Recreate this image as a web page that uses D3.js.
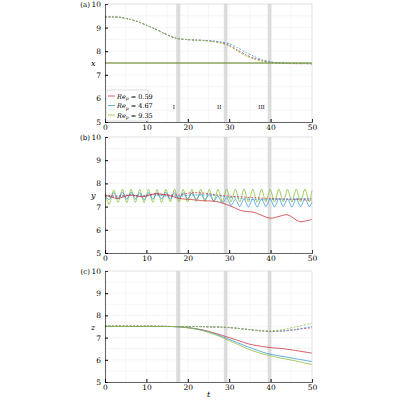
<!DOCTYPE html><html><head><meta charset="utf-8"><script src="https://cdn.jsdelivr.net/npm/d3@7"></script>
<style>body{margin:0;background:#fff}text{font-family:"DejaVu Serif","Liberation Serif",serif}</style></head><body><svg id="c" width="400" height="400"></svg><script>
const colors={red:"#c9343f",blue:"#3a9ad8",green:"#8fbe3a"};
const legendLabels=["0.59","4.67","9.35"];
const bands=[[17.2,18.2],[28.7,29.6],[39.3,40.2]];
const romans=[["I",16.6],["II",27.6],["III",37.8]];
const xTicks=[0,10,20,30,40,50], yTicks=[5,6,7,8,9,10];
// panel a
const tA=[0,2,4,6,8,10,12,14,16,17,18,20,22,24,26,28,30,32,34,36,38,40,42,44,46,48,50];
const aRed=[9.45,9.45,9.43,9.35,9.25,9.1,8.95,8.78,8.62,8.56,8.52,8.49,8.47,8.45,8.42,8.36,8.25,8.05,7.85,7.7,7.6,7.53,7.5,7.48,7.47,7.47,7.46];
const aBlue=[9.45,9.45,9.43,9.35,9.25,9.1,8.95,8.78,8.62,8.56,8.52,8.49,8.47,8.46,8.44,8.39,8.32,8.15,7.95,7.78,7.64,7.55,7.51,7.49,7.48,7.48,7.47];
const aGreen=[9.45,9.45,9.43,9.35,9.25,9.1,8.95,8.78,8.62,8.56,8.52,8.49,8.47,8.45,8.41,8.34,8.22,8.0,7.8,7.66,7.57,7.52,7.5,7.48,7.48,7.48,7.48];
const aFlat=[7.5,7.5];
// panel b oscillations, sampled at half periods
const tOsc=[0,1.05,2.1,3.15,4.2,5.25,6.3,7.35,8.4,9.45,10.5,11.55,12.6,13.65,14.7,15.75,16.8,17.85,18.9,19.95,21,22.05,23.1,24.15,25.2,26.25,27.3,28.35,29.4,30.45,31.5,32.55,33.6,34.65,35.7,36.75,37.8,38.85,39.9,40.95,42,43.05,44.1,45.15,46.2,47.25,48.3,49.35,50];
const bGreen=[7.5,7.1,7.72,7.18,7.75,7.17,7.75,7.18,7.74,7.17,7.75,7.18,7.74,7.18,7.74,7.2,7.75,7.2,7.74,7.2,7.74,7.22,7.75,7.22,7.74,7.2,7.75,7.2,7.76,7.2,7.75,7.2,7.76,7.2,7.75,7.18,7.76,7.2,7.75,7.2,7.76,7.2,7.75,7.2,7.76,7.2,7.76,7.2,7.7];
const bBlue=[7.45,7.3,7.6,7.32,7.62,7.32,7.62,7.33,7.6,7.3,7.6,7.32,7.6,7.33,7.62,7.32,7.6,7.33,7.6,7.34,7.58,7.32,7.56,7.3,7.52,7.25,7.45,7.15,7.38,7.05,7.32,7.0,7.34,6.98,7.35,6.98,7.34,7.0,7.33,6.98,7.35,7.0,7.34,6.98,7.35,7.0,7.34,7.0,7.2];
const tB=[0,3,6,9,12,15,18,21,24,27,30,33,36,40,44,47,50];
const bRed=[7.5,7.35,7.5,7.42,7.55,7.5,7.35,7.3,7.25,7.22,7.05,6.82,6.75,6.5,6.65,6.35,6.45];
const bRedD=[7.5,7.45,7.5,7.45,7.55,7.5,7.5,7.6,7.58,7.5,7.45,7.42,7.38,7.35,7.32,7.3,7.28];
const bBlueD=[7.45,7.4,7.5,7.45,7.5,7.45,7.45,7.5,7.5,7.48,7.4,7.35,7.3,7.3,7.32,7.35,7.35];
// panel c
const tC=[0,10,16,18,20,22,24,26,28,30,32,35,38,40,43,46,50];
const cRed=[7.5,7.5,7.5,7.48,7.45,7.4,7.33,7.23,7.12,7.0,6.88,6.7,6.6,6.55,6.5,6.42,6.3];
const cBlue=[7.5,7.5,7.5,7.48,7.45,7.39,7.31,7.2,7.07,6.92,6.77,6.55,6.35,6.25,6.15,6.05,5.92];
const cGreen=[7.5,7.5,7.5,7.48,7.44,7.38,7.29,7.17,7.03,6.86,6.7,6.45,6.27,6.18,6.06,5.95,5.78];
const cRedD=[7.52,7.52,7.5,7.5,7.5,7.5,7.49,7.48,7.47,7.45,7.42,7.35,7.3,7.28,7.3,7.36,7.45];
const cBlueD=[7.52,7.52,7.5,7.5,7.5,7.5,7.49,7.48,7.47,7.45,7.42,7.36,7.3,7.28,7.3,7.36,7.5];
const cGreenD=[7.52,7.52,7.5,7.5,7.5,7.5,7.49,7.48,7.47,7.45,7.42,7.36,7.31,7.3,7.36,7.48,7.65];

const svg=d3.select("#c");
const x=d3.scaleLinear().domain([0,50]).range([105,312]);
function panel(top,bot,lab,vlab,series){
  const y=d3.scaleLinear().domain([5,10]).range([bot,top]);
  const g=svg.append("g");
  for(let v=0;v<=50;v+=5)g.append("line").attr("x1",x(v)).attr("x2",x(v)).attr("y1",top).attr("y2",bot).attr("stroke","#ececec").attr("stroke-width",0.5);
  for(let v=5;v<=10;v+=0.5)g.append("line").attr("x1",105).attr("x2",312).attr("y1",y(v)).attr("y2",y(v)).attr("stroke","#ececec").attr("stroke-width",0.5);
  bands.forEach(b=>g.append("rect").attr("x",x(b[0])).attr("width",x(b[1])-x(b[0])).attr("y",top).attr("height",bot-top).attr("fill","#dcdcdc"));
  const line=d3.line().curve(d3.curveCardinal.tension(0.3));
  series.forEach(s=>g.append("path").attr("d",line(s.t.map((t,i)=>[x(t),y(s.v[i])]))).attr("fill","none").attr("stroke",s.c).attr("stroke-width",0.8).attr("stroke-dasharray",s.d?"2,1.5":null));
  g.append("g").attr("transform",`translate(0,${bot})`).call(d3.axisBottom(x).tickValues(xTicks).tickFormat(d3.format("d")).tickSize(-3).tickPadding(3)).call(a=>{a.select(".domain").attr("stroke-width",0.6);a.selectAll("text").attr("font-size",7.5)});
  g.append("g").attr("transform","translate(105,0)").call(d3.axisLeft(y).tickValues(yTicks).tickFormat(d3.format("d")).tickSize(-3).tickPadding(4)).call(a=>{a.select(".domain").attr("stroke-width",0.6);a.selectAll("text").attr("font-size",7.5)});
  g.append("line").attr("x1",312).attr("x2",312).attr("y1",top).attr("y2",bot).attr("stroke","#ccc").attr("stroke-width",0.5);
  g.append("line").attr("x1",105).attr("x2",312).attr("y1",top).attr("y2",top).attr("stroke","#ccc").attr("stroke-width",0.5);
  g.append("text").attr("x",90).attr("y",top+3).attr("font-size",7).attr("text-anchor","end").text(lab);
  g.append("text").attr("x",91).attr("y",y(7.5)+3).attr("font-size",8).attr("font-style","italic").text(vlab);
  return y;
}
const yA=panel(4,122,"(a)","x",[
 {t:tA,v:aRed,c:colors.red,d:1},{t:tA,v:aBlue,c:colors.blue,d:1},{t:tA,v:aGreen,c:colors.green,d:1},
 {t:[0,50],v:aFlat,c:"#555"},{t:[0,50],v:aFlat,c:colors.green}]);
romans.forEach(r=>svg.append("text").attr("x",x(r[1])).attr("y",yA(5.55)).attr("font-size",5.5).attr("text-anchor","middle").text(r[0]));
const lg=svg.append("g");
lg.append("rect").attr("x",106).attr("y",90).attr("width",42).attr("height",31).attr("fill","#fff").attr("stroke","#bbb").attr("stroke-width",0.5);
[colors.red,colors.blue,colors.green].forEach((c,i)=>{const yy=96+i*9.5;
 lg.append("line").attr("x1",108).attr("x2",115).attr("y1",yy).attr("y2",yy).attr("stroke",c).attr("stroke-width",0.8);
 const t=lg.append("text").attr("x",117).attr("y",yy+2.5).attr("font-size",6.5);
 t.append("tspan").attr("font-style","italic").text("Re");t.append("tspan").attr("font-size",4.5).attr("dy",1.5).attr("font-style","italic").text("p");
 t.append("tspan").attr("dy",-1.5).text(" = "+legendLabels[i]);});
panel(137,253,"(b)","y",[
 {t:tOsc,v:bGreen,c:colors.green},{t:tOsc,v:bBlue,c:colors.blue},
 {t:tB,v:bRedD,c:colors.red,d:1},{t:tB,v:bBlueD,c:colors.blue,d:1},{t:tB,v:bRed,c:colors.red}]);
panel(271,382,"(c)","z",[
 {t:tC,v:cRedD,c:colors.red,d:1},{t:tC,v:cBlueD,c:colors.blue,d:1},{t:tC,v:cGreenD,c:colors.green,d:1},
 {t:tC,v:cRed,c:colors.red},{t:tC,v:cBlue,c:colors.blue},{t:tC,v:cGreen,c:colors.green}]);
svg.append("text").attr("x",x(25)).attr("y",397).attr("font-size",8).attr("font-style","italic").attr("text-anchor","middle").text("t");
</script></body></html>
